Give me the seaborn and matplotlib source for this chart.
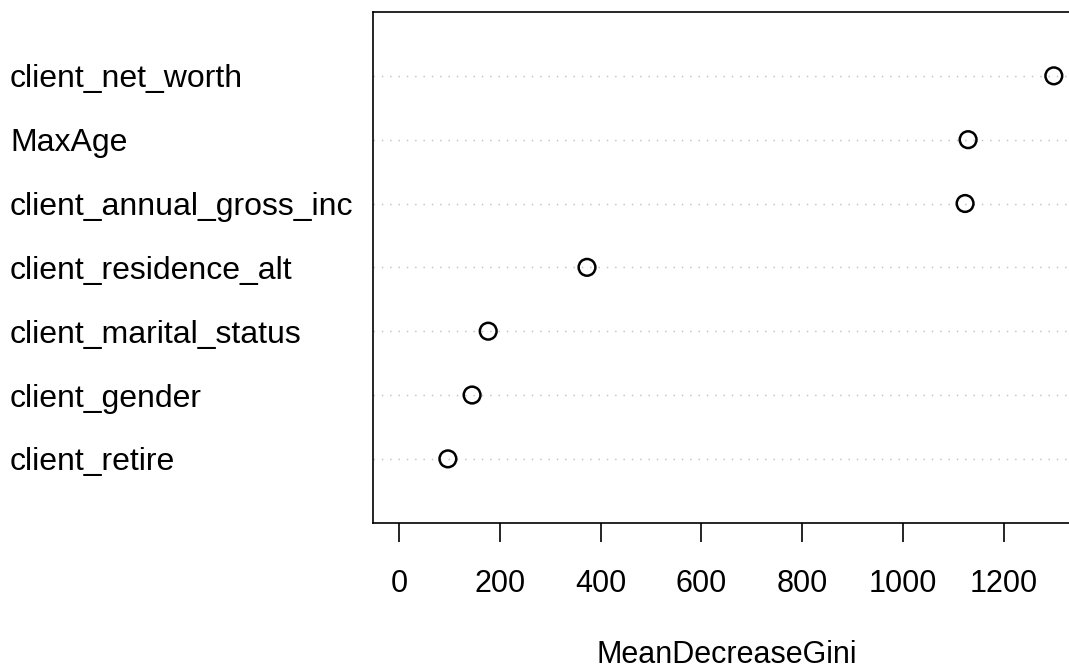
import matplotlib
matplotlib.use("Agg")
import matplotlib.pyplot as plt
import seaborn as sns
import pandas as pd

features = ["client_net_worth", "MaxAge", "client_annual_gross_inc",
            "client_residence_alt", "client_marital_status", "client_gender",
            "client_retire"]
gini = [1299, 1129, 1123, 373, 177, 145, 97]
xticks = [0, 200, 400, 600, 800, 1000, 1200]
xlabel = "MeanDecreaseGini"

sns.set_style("white")
plt.rcParams["font.family"] = ["Liberation Sans", "DejaVu Sans"]
plt.rcParams["text.color"] = "black"
plt.rcParams["axes.labelcolor"] = "black"
plt.rcParams["xtick.color"] = "black"
plt.rcParams["ytick.color"] = "black"

n = len(features)
df = pd.DataFrame({"feature": features, "gini": gini,
                   "pos": list(range(n, 0, -1))})

W, H = 1069, 670
fig = plt.figure(figsize=(W / 100, H / 100), dpi=100)
ax = fig.add_axes([372.8 / W, 1 - 522.7 / H, (1080 - 372.8) / W, (522.7 - 12) / H])

xmax = max(gini) * 1.04
xmin = -max(gini) * 0.04
ax.hlines(df["pos"], xmin, xmax, colors="#BEBEBE", linestyles=(0, (1, 5)), linewidth=1.0, zorder=1)
sns.scatterplot(data=df, x="gini", y="pos", ax=ax, marker="o", s=145,
                facecolor="none", edgecolor="black", linewidth=1.8, zorder=3, legend=False)

ax.set_xlim(xmin, xmax)
ax.set_ylim(0, n + 1)
ax.set_xticks(xticks)
ax.set_xticklabels([str(t) for t in xticks], fontsize=22)
ax.tick_params(axis="x", bottom=True, direction="out", length=14, width=1.2,
               pad=19, color="black", labelcolor="black")
ax.set_yticks(df["pos"])
ax.set_yticklabels(df["feature"], fontsize=23, ha="left")
ax.tick_params(axis="y", left=False, length=0, pad=362.8 * 0.72, labelcolor="black")
for sp in ax.spines.values():
    sp.set_visible(True)
    sp.set_color("black")
    sp.set_linewidth(1.2)
ax.set_xlabel(xlabel, fontsize=22, color="black", va="baseline")
ax.xaxis.set_label_coords(0.5, (522.7 - 663) / 510.7)
ax.set_ylabel("")

fig.savefig("out.png", dpi=100)
